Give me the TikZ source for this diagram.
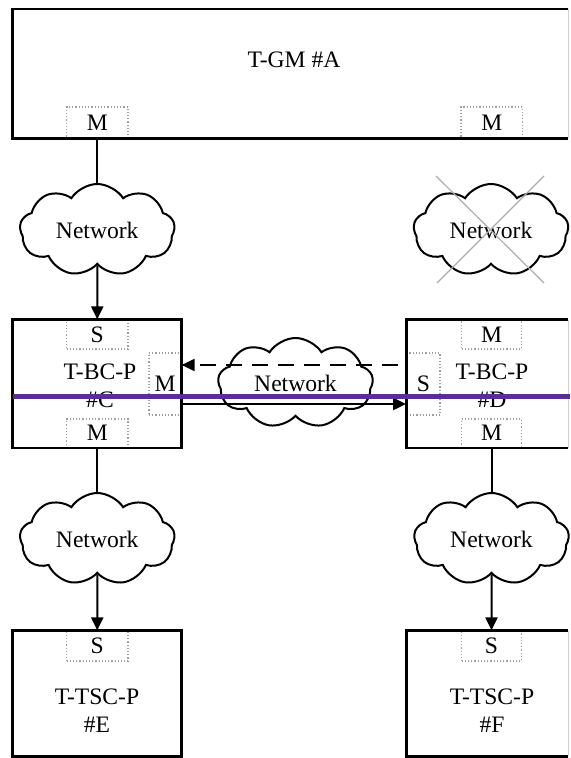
\documentclass[tikz,border=0pt]{standalone}
\usepackage{fontspec}
\setmainfont{Liberation Serif}
\usetikzlibrary{shapes.symbols,arrows.meta,calc}
\definecolor{purp}{RGB}{92,45,150}
\begin{document}
\begin{tikzpicture}[x=0.5pt,y=-0.5pt,
  font=\fontsize{11.8}{14}\selectfont,
  blk/.style={line width=1.25pt},
  unit/.style={draw=none, inner sep=0pt},
  port/.style={draw=gray!75, densely dotted, line width=0.6pt, inner sep=0pt},
  net/.style={cloud, cloud puffs=9, cloud puff arc=115, aspect=1.65, draw, line width=1pt, inner sep=0pt, minimum width=77.5pt, minimum height=46pt},
  conn/.style={line width=1pt},
  tip/.style={-{Triangle[length=6.5pt,width=6pt]}},
  faint/.style={draw=gray!35, line width=0.6pt},
  crossline/.style={draw=gray!65, line width=0.6pt}]
\useasboundingbox (0,0) rectangle (570,758);

% T-GM #A
\node[unit, minimum width=277.6pt, minimum height=64.2pt] (A) at (290.4,73.8) {};
\node (Atxt) at (294,60) {T-GM \#A};
\node[port, minimum width=30.75pt, minimum height=15.5pt] (AM1) at (97.25,122.5) {M};
\node[port, minimum width=30.75pt, minimum height=15.5pt] (AM2) at (491.75,122.5) {M};
\draw[blk] (A.north east) -- (A.north west) -- (A.south west) -- (A.south east);
\draw[faint] (A.north east) -- (A.south east);

% T-BC-P #C
\node[unit, minimum width=84.15pt, minimum height=63.75pt] (C) at (96.85,383.75) {};
\node[align=center] (Ctxt) at (100,386) {T-BC-P\\\#C};
\node[port, minimum width=30.75pt, minimum height=14.5pt] (CS) at (97.25,334.5) {S};
\node[port, minimum width=16pt, minimum height=31pt] (CM) at (165,384) {M};
\node[port, minimum width=30.75pt, minimum height=14.25pt] (CMb) at (97.25,433.25) {M};
\draw[blk] (C.north west) rectangle (C.south east);

% T-BC-P #D
\node[unit, minimum width=80.65pt, minimum height=63.75pt] (D) at (487.35,383.75) {};
\node[align=center] (Dtxt) at (492,386) {T-BC-P\\\#D};
\node[port, minimum width=30pt, minimum height=14.5pt] (DMt) at (491.5,334.5) {M};
\node[port, minimum width=16.65pt, minimum height=31pt] (DS) at (423.35,384) {S};
\node[port, minimum width=30pt, minimum height=14.25pt] (DMb) at (491.5,433.25) {M};
\draw[blk] (D.north east) -- (D.north west) -- (D.south west) -- (D.south east);
\draw[faint] (D.north east) -- (D.south east);

% T-TSC-P #E
\node[unit, minimum width=84.15pt, minimum height=62.5pt] (E) at (96.85,693.5) {};
\node[align=center] (Etxt) at (97,711) {T-TSC-P\\\#E};
\node[port, minimum width=30.75pt, minimum height=15pt] (ES) at (97.25,646) {S};
\draw[blk] (E.north west) rectangle (E.south east);

% T-TSC-P #F
\node[unit, minimum width=80.65pt, minimum height=62.5pt] (F) at (487.35,693.5) {};
\node[align=center] (Ftxt) at (492,711) {T-TSC-P\\\#F};
\node[port, minimum width=30pt, minimum height=15pt] (FS) at (491.5,646) {S};
\draw[blk] (F.north east) -- (F.north west) -- (F.south west) -- (F.south east);
\draw[faint] (F.north east) -- (F.south east);

% Networks
\node[net] (N1) at (97.25,230) {Network};
\node[net] (N2) at (491,230) {Network};
\node[net, minimum height=45pt] (N3) at (295.5,383) {Network};
\node[net] (N4) at (97.25,539) {Network};
\node[net] (N5) at (491.5,539) {Network};

% cross over N2
\draw[crossline] ($(N2)+(-55,-54)$) -- ($(N2)+(53,53)$);
\draw[crossline] ($(N2)+(53,-54)$) -- ($(N2)+(-54,53)$);

% connectors
\draw[conn] (AM1.south) -- (N1.north);
\draw[conn,tip] (N1.south) -- (CS.north);
\draw[conn] (CMb.south) -- (N4.north);
\draw[conn,tip] (N4.south) -- (ES.north);
\draw[conn] (DMb.south) -- (N5.north);
\draw[conn,tip] (N5.south) -- (FS.north);
\draw[conn,tip,dash pattern=on 8pt off 5pt] ($(DS.west)+(-8,-19)$) -- ($(CM.east)+(0,-19)$);
\draw[conn,tip] ($(CM.east)+(0,20)$) -- ($(DS.west)+(0,20)$);

% purple line
\coordinate (pstart) at (12.7,396.5);
\coordinate (pend) at (570,396.5);
\draw[purp, line width=2.3pt] (pstart) -- (pend);
\end{tikzpicture}
\end{document}
